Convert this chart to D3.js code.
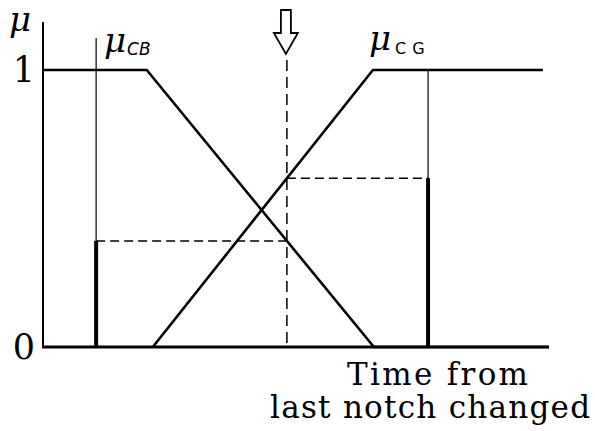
<!DOCTYPE html>
<html>
<head>
<meta charset="utf-8">
<script src="https://cdn.jsdelivr.net/npm/d3@7/dist/d3.min.js"></script>
<style>
  html, body { margin: 0; padding: 0; background: #fff; }
  svg { display: block; }
</style>
</head>
<body>
<svg id="chart" width="595" height="431"></svg>
<script>
// Membership functions over "time from last notch changed" (arbitrary units 0..100)
const cbPoints = [[0, 1], [20.5, 1], [65.4, 0], [100, 0]];   // μCB: falls from 1 to 0
const cgPoints = [[21.7, 0], [65.2, 1], [98.8, 1]];          // μCG: rises from 0 to 1
const currentTime = 48.2;                                     // marked by the arrow
const cbOutputTime = 10.5;                                    // singleton position for CB
const cgOutputTime = 76.1;                                    // singleton position for CG
const yTickValues = [0, 1];
const yTickLabels = ["0", "1"];
const xTitleLines = ["Time from", "last notch changed"];

const svg = d3.select("#chart");
const x = d3.scaleLinear().domain([0, 100]).range([43, 549]);
const y = d3.scaleLinear().domain([0, 1]).range([347, 70]);

// piecewise-linear evaluation of a membership function
function mu(points, t) {
  if (t <= points[0][0]) return points[0][1];
  for (let i = 1; i < points.length; i++) {
    const [x0, y0] = points[i - 1], [x1, y1] = points[i];
    if (t <= x1) return y0 + (y1 - y0) * (t - x0) / (x1 - x0);
  }
  return points[points.length - 1][1];
}
const cbValue = mu(cbPoints, currentTime);
const cgValue = mu(cgPoints, currentTime);

const line = d3.line().x(d => x(d[0])).y(d => y(d[1]));
const ink = "#000";

// axes (drawn as plain lines, ticks as text only)
svg.append("line").attr("x1", x(0)).attr("x2", x(0)).attr("y1", 22).attr("y2", y(0))
  .attr("stroke", ink).attr("stroke-width", 2);
svg.append("line").attr("x1", x(0) - 1).attr("x2", x(100)).attr("y1", y(0)).attr("y2", y(0))
  .attr("stroke", ink).attr("stroke-width", 3);

svg.selectAll(".ytick").data(yTickValues).enter().append("text")
  .attr("class", "ytick")
  .attr("x", 24).attr("y", d => y(d) + 12)
  .attr("text-anchor", "middle")
  .attr("font-family", "DejaVu Serif")
  .attr("font-size", 35)
  .attr("fill", ink)
  .text((d, i) => yTickLabels[i]);

// μ axis label
svg.append("text").attr("x", 9).attr("y", 31)
  .attr("font-family", "DejaVu Serif").attr("font-style", "italic")
  .attr("font-size", 34).attr("fill", ink).text("μ");

// membership curves
svg.append("path").datum(cbPoints).attr("d", line)
  .attr("fill", "none").attr("stroke", ink).attr("stroke-width", 2.6);
svg.append("path").datum(cgPoints).attr("d", line)
  .attr("fill", "none").attr("stroke", ink).attr("stroke-width", 2.6);

// curve labels
const cbLabel = svg.append("text").attr("x", 104).attr("y", 52).attr("fill", ink);
cbLabel.append("tspan").attr("font-family", "DejaVu Serif").attr("font-style", "italic")
  .attr("font-size", 34).text("μ");
cbLabel.append("tspan").attr("font-family", "DejaVu Sans").attr("font-style", "italic")
  .attr("font-size", 17).attr("dx", 1).attr("dy", 3).text("CB");

const cgLabel = svg.append("text").attr("x", 369).attr("y", 50).attr("fill", ink);
cgLabel.append("tspan").attr("font-family", "DejaVu Serif").attr("font-style", "italic")
  .attr("font-size", 34).text("μ");
cgLabel.append("tspan").attr("font-family", "DejaVu Sans")
  .attr("font-size", 16).attr("dx", 4).attr("dy", 4).attr("letter-spacing", 6).text("CG");

// current-time marker: dashed vertical line and hollow arrow
svg.append("line").attr("x1", x(currentTime)).attr("x2", x(currentTime))
  .attr("y1", 60).attr("y2", y(0))
  .attr("stroke", ink).attr("stroke-width", 1.5).attr("stroke-dasharray", "11,6");

const ax = x(currentTime) - 1;
const arrow = [[ax - 5, 10], [ax + 5, 10], [ax + 5, 33], [ax + 12, 33], [ax, 54],
               [ax - 12, 33], [ax - 5, 33]];
svg.append("path").attr("d", d3.line()(arrow) + "Z")
  .attr("fill", "#fff").attr("stroke", ink).attr("stroke-width", 1.8)
  .attr("stroke-linejoin", "miter");

// firing levels carried over to the output singletons
svg.append("line").attr("x1", x(cbOutputTime)).attr("x2", x(currentTime))
  .attr("y1", y(cbValue)).attr("y2", y(cbValue))
  .attr("stroke", ink).attr("stroke-width", 1.5).attr("stroke-dasharray", "9,5");
svg.append("line").attr("x1", x(currentTime)).attr("x2", x(cgOutputTime))
  .attr("y1", y(cgValue)).attr("y2", y(cgValue))
  .attr("stroke", ink).attr("stroke-width", 1.5).attr("stroke-dasharray", "9,5");

// thin guide lines of the singletons
svg.append("line").attr("x1", x(cbOutputTime)).attr("x2", x(cbOutputTime))
  .attr("y1", 38).attr("y2", y(0)).attr("stroke", ink).attr("stroke-width", 1.2);
svg.append("line").attr("x1", x(cgOutputTime)).attr("x2", x(cgOutputTime))
  .attr("y1", y(1)).attr("y2", y(0)).attr("stroke", ink).attr("stroke-width", 1.2);

// thick bars showing the resulting singleton heights
svg.append("line").attr("x1", x(cbOutputTime)).attr("x2", x(cbOutputTime))
  .attr("y1", y(cbValue)).attr("y2", y(0)).attr("stroke", ink).attr("stroke-width", 4);
svg.append("line").attr("x1", x(cgOutputTime)).attr("x2", x(cgOutputTime))
  .attr("y1", y(cgValue)).attr("y2", y(0)).attr("stroke", ink).attr("stroke-width", 4);

// x axis title
svg.append("text").attr("x", 347).attr("y", 385)
  .attr("font-family", "DejaVu Serif").attr("font-size", 31).attr("fill", ink)
  .attr("textLength", 181).attr("lengthAdjust", "spacing")
  .text(xTitleLines[0]);
svg.append("text").attr("x", 270).attr("y", 418)
  .attr("font-family", "DejaVu Serif").attr("font-size", 31).attr("fill", ink)
  .attr("textLength", 320).attr("lengthAdjust", "spacing")
  .text(xTitleLines[1]);
</script>
</body>
</html>
